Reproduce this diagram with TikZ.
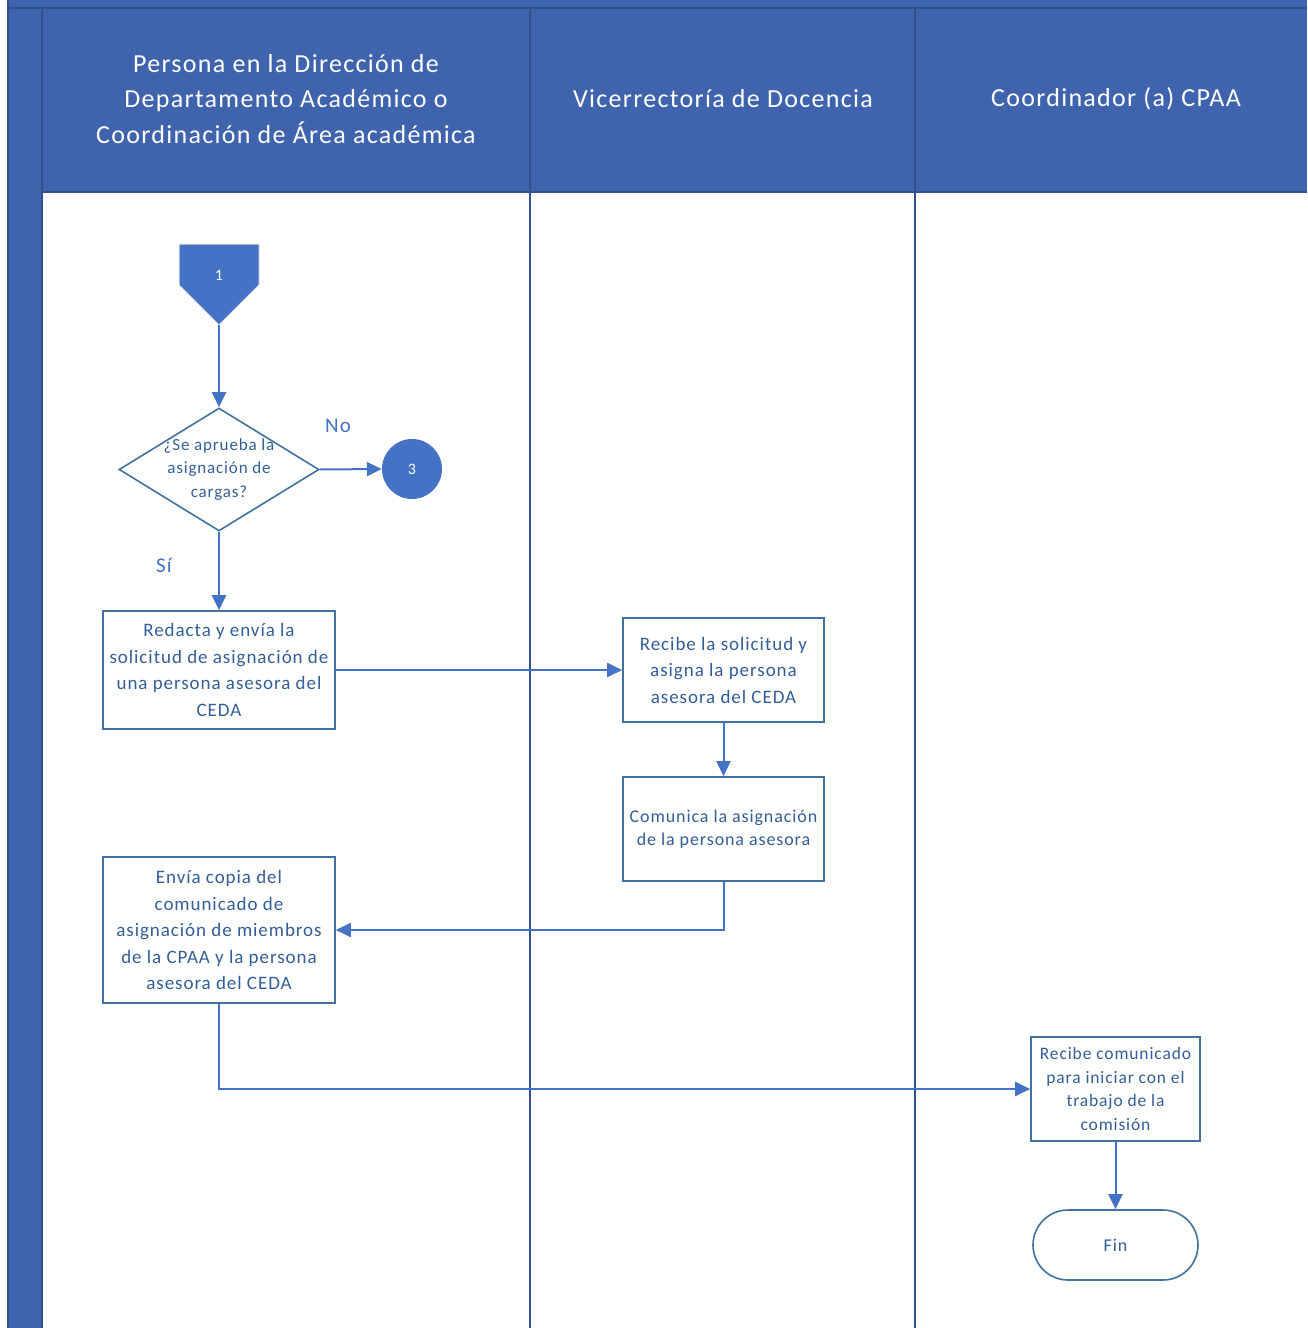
\documentclass[tikz,border=0pt]{standalone}
\usepackage{fontspec}
\setmainfont[LetterSpace=5]{Carlito}
\usetikzlibrary{arrows.meta,shapes.geometric,shapes.misc}
\definecolor{hdr}{RGB}{63,100,173}
\definecolor{hdrline}{RGB}{47,82,143}
\definecolor{conn}{RGB}{68,114,196}
\definecolor{boxline}{RGB}{65,113,156}
\definecolor{boxtxt}{RGB}{52,94,150}
\tikzset{
  procbox/.style={draw=boxline, line width=1.6pt, fill=white, rectangle, align=center, inner sep=2pt,
    text=boxtxt, font={\fontsize{19}{26.5}\selectfont}},
  flow/.style={draw=conn, line width=2pt, -{Triangle[length=15pt,width=14pt]}},
  lanetitle/.style={text=white, align=center, font={\fontsize{26}{35.5}\selectfont}},
  lbl/.style={text=conn, font={\fontsize{21}{25}\selectfont}},
  laneline/.style={draw=hdrline, line width=2pt}
}
\begin{document}
\begin{tikzpicture}[x=1pt,y=-1pt]
\useasboundingbox (0,0) rectangle (1307,1328);
% pool and header
\fill[hdr] (8,0) rectangle (1307,192);
\fill[hdr] (8,0) rectangle (42,1328);
\draw[laneline] (8,0) -- (8,1328);
\draw[laneline] (8,8) -- (1307,8);
\draw[laneline] (42,8) -- (42,1328);
\draw[laneline] (42,192) -- (1307,192);
\draw[laneline] (530,8) -- (530,1328);
\draw[laneline] (915,8) -- (915,1328);
\node[lanetitle] (t1) at (286,99) {Persona en la Dirección de\\Departamento Académico o\\Coordinación de Área académica};
\node[lanetitle] (t2) at (723,99) {Vicerrectoría de Docencia};
\node[lanetitle] (t3) at (1116,99) {Coordinador (a) CPAA};
% off-page connector 1
\fill[conn, draw=white!80!gray, line width=1pt] (179,244) -- (259,244) -- (259,285) -- (219,325) -- (179,285) -- cycle;
\node[text=white, font={\fontsize{16}{19}\selectfont}] (off1) at (219,275) {1};
\coordinate (off1tip) at (219,325);
% decision
\node[diamond, draw=boxline, line width=1.6pt, minimum width=200pt, minimum height=123pt, inner sep=0pt,
  label={[text=boxtxt, align=center, font={\fontsize{17}{23.5}\selectfont}]center:¿Se aprueba la\\asignación de\\cargas?}] (dec) at (219,469.5) {};
\node[circle, fill=conn, minimum size=60pt, inner sep=0pt, text=white, font={\fontsize{16}{19}\selectfont}] (c3) at (412,469) {3};
\node[lbl] (no) at (338,426) {No};
\node[lbl] (si) at (164,565) {Sí};
% process boxes
\node[procbox, minimum width=232pt, minimum height=118pt] (a) at (219,670) {Redacta y envía la\\solicitud de asignación de\\una persona asesora del\\CEDA};
\node[procbox, minimum width=201pt, minimum height=104pt] (b) at (723.5,670) {Recibe la solicitud y\\asigna la persona\\asesora del CEDA};
\node[procbox, minimum width=201pt, minimum height=104pt, font={\fontsize{18}{23.5}\selectfont}] (c) at (723.5,829) {Comunica la asignación\\de la persona asesora};
\node[procbox, minimum width=232pt, minimum height=146pt] (d) at (219,930) {Envía copia del\\comunicado de\\asignación de miembros\\de la CPAA y la persona\\asesora del CEDA};
\node[procbox, minimum width=169pt, minimum height=104pt, font={\fontsize{17.5}{23.5}\selectfont}] (e) at (1115.5,1089) {Recibe comunicado\\para iniciar con el\\trabajo de la\\comisión};
\node[procbox, rounded rectangle, minimum width=169pt, minimum height=70pt, font={\fontsize{18}{22}\selectfont}] (fin) at (1115.5,1245) {Fin};
% connectors
\draw[flow] (off1tip) -- (dec.north);
\draw[flow] (dec.east) -- (c3.west);
\draw[flow] (dec.south) -- (a.north);
\draw[flow] (a.east) -- (b.west);
\draw[flow] (b.south) -- (c.north);
\draw[flow] (c.south) |- (d.east);
\draw[flow] (d.south) |- (e.west);
\draw[flow] (e.south) -- (fin.north);
\end{tikzpicture}
\end{document}
